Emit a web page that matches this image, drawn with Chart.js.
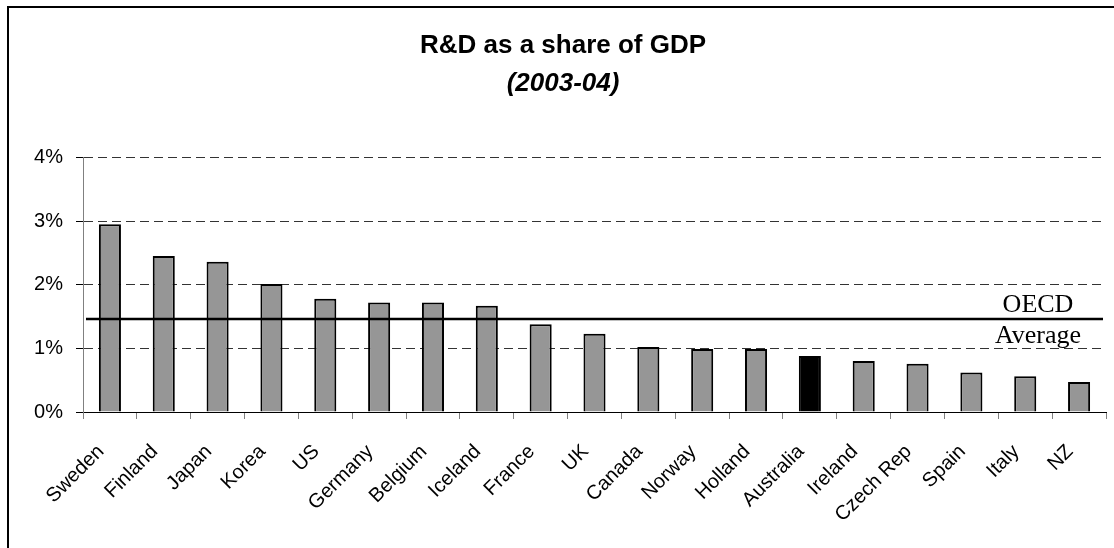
<!DOCTYPE html>
<html>
<head>
<meta charset="utf-8">
<script src="https://cdn.jsdelivr.net/npm/chart.js@4.4.0/dist/chart.umd.min.js"></script>
<style>
  html, body { margin: 0; padding: 0; background: #fff; }
</style>
</head>
<body>
<canvas id="rdChart" width="1114" height="548"></canvas>
<script>
// --------------- Data ---------------
const countries = ["Sweden", "Finland", "Japan", "Korea", "US", "Germany", "Belgium", "Iceland",
  "France", "UK", "Canada", "Norway", "Holland", "Australia", "Ireland", "Czech Rep",
  "Spain", "Italy", "NZ"];
const rdShare = [2.95, 2.45, 2.36, 2.01, 1.78, 1.72, 1.72, 1.67, 1.38, 1.23, 1.02, 0.99, 0.99,
  0.88, 0.80, 0.76, 0.62, 0.56, 0.47];
const highlight = "Australia";
const oecdAverage = 1.46;
const oecdLabel = ["OECD", "Average"];
const yTicks = [0, 1, 2, 3, 4];

// --------------- Plugins ---------------
// white background + black frame round the chart
const framePlugin = {
  id: 'frame',
  beforeDraw(chart) {
    const ctx = chart.ctx;
    ctx.save();
    ctx.fillStyle = '#fff';
    ctx.fillRect(0, 0, chart.width, chart.height);
    ctx.lineWidth = 2;
    ctx.strokeStyle = '#000';
    ctx.strokeRect(8, 7, 1300, 1000);
    ctx.restore();
  }
};

// OECD average line with its two-line label
const averagePlugin = {
  id: 'oecdAverage',
  afterDatasetsDraw(chart) {
    const { ctx, chartArea } = chart;
    const y = chart.scales.y.getPixelForValue(oecdAverage);
    ctx.save();
    ctx.lineWidth = 2.5;
    ctx.strokeStyle = '#000';
    ctx.beginPath();
    ctx.moveTo(chartArea.left + 3, y);
    ctx.lineTo(chartArea.right - 3, y);
    ctx.stroke();

    ctx.fillStyle = '#000';
    ctx.font = '26px "Liberation Serif", "Times New Roman", serif';
    ctx.textAlign = 'center';
    ctx.textBaseline = 'alphabetic';
    const x = chartArea.right - 68;
    ctx.fillText(oecdLabel[0], x, y - 7);
    ctx.fillText(oecdLabel[1], x, y + 24);
    ctx.restore();
  }
};

// --------------- Chart ---------------
const ctx = document.getElementById('rdChart').getContext('2d');
const chart = new Chart(ctx, {
  type: 'bar',
  data: {
    labels: countries,
    datasets: [{
      data: rdShare,
      backgroundColor: countries.map(c => c === highlight ? '#000' : '#969696'),
      borderColor: '#000',
      borderWidth: 2,
      categoryPercentage: 1,
      barPercentage: 0.41
    }]
  },
  options: {
    responsive: false,
    animation: false,
    layout: { padding: { left: 20, right: 8, top: 0, bottom: 0 } },
    plugins: {
      legend: { display: false },
      tooltip: { enabled: false },
      title: {
        display: true,
        text: 'R&D as a share of GDP',
        color: '#000',
        font: { family: '"Liberation Sans", Arial, sans-serif', size: 26, weight: 'bold', lineHeight: 1.2 },
        padding: { top: 30, bottom: 7 }
      },
      subtitle: {
        display: true,
        text: '(2003-04)',
        color: '#000',
        font: { family: '"Liberation Sans", Arial, sans-serif', size: 26, weight: 'bold', style: 'italic', lineHeight: 1.2 },
        padding: { top: 0, bottom: 58 }
      }
    },
    scales: {
      x: {
        // fixed axis height, and no extra side padding for the rotated labels
        afterFit: s => { s.height = 136; s.paddingLeft = 0; s.paddingRight = 0; },
        border: { display: true, color: '#000', width: 1 },
        grid: {
          offset: true,
          drawOnChartArea: false,
          drawTicks: true,
          tickLength: 7,
          tickColor: '#808080'
        },
        ticks: {
          autoSkip: false,
          minRotation: 45,
          maxRotation: 45,
          padding: 21,
          labelOffset: -9,
          color: '#000',
          font: { family: '"Liberation Sans", Arial, sans-serif', size: 20 }
        }
      },
      y: {
        min: 0,
        max: yTicks[yTicks.length - 1],
        afterFit: s => { s.width = 63; },
        afterBuildTicks: s => { s.ticks = yTicks.map(v => ({ value: v })); },
        border: { display: true, color: '#808080', width: 1, dash: [9, 5] },
        grid: {
          color: c => c.tick && c.tick.value === 0 ? 'rgba(0,0,0,0)' : '#333',
          lineWidth: 1,
          drawTicks: true,
          tickLength: 7,
          tickColor: '#000',
          tickBorderDash: []
        },
        ticks: {
          padding: 13,
          color: '#000',
          font: { family: '"Liberation Sans", Arial, sans-serif', size: 20 },
          callback: v => v + '%'
        }
      }
    }
  },
  plugins: [framePlugin, averagePlugin]
});
</script>
</body>
</html>
